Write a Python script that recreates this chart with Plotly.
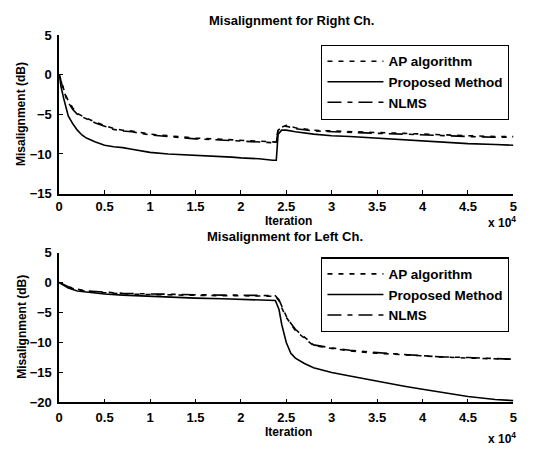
import plotly.graph_objects as go

# Right channel (top)
x_right = [0, 0.02, 0.05, 0.08, 0.1, 0.15, 0.2, 0.25, 0.3, 0.4, 0.5, 0.6, 0.7, 0.8, 0.9, 1.0, 1.2, 1.4, 1.5, 1.7, 1.9, 2.0, 2.2, 2.35, 2.39,
           2.41, 2.45, 2.5, 2.6, 2.8, 3.0, 3.2, 3.5, 3.8, 4.0, 4.2, 4.5, 4.8, 5.0]
right_ap = [0, -0.8, -1.8, -2.8, -3.3, -4.2, -4.9, -5.2, -5.5, -6.0, -6.4, -6.8, -7.0, -7.1, -7.3, -7.5, -7.7, -7.9, -8.0, -8.1, -8.2, -8.3, -8.4, -8.5, -8.5,
            -6.8, -6.6, -6.4, -6.7, -7.0, -7.1, -7.2, -7.3, -7.4, -7.5, -7.6, -7.7, -7.8, -7.8]
right_prop = [0, -1.5, -3.0, -4.5, -5.2, -6.2, -7.0, -7.6, -8.0, -8.5, -8.9, -9.1, -9.2, -9.4, -9.6, -9.8, -10.0, -10.1, -10.2, -10.3, -10.4, -10.5, -10.6, -10.8, -10.8,
              -7.5, -7.0, -7.0, -7.2, -7.5, -7.7, -7.8, -8.0, -8.2, -8.4, -8.5, -8.7, -8.8, -8.9]
right_nlms = [0, -0.9, -2.0, -3.0, -3.5, -4.4, -5.0, -5.3, -5.6, -6.1, -6.5, -6.9, -7.1, -7.2, -7.4, -7.6, -7.8, -8.0, -8.1, -8.2, -8.3, -8.4, -8.5, -8.6, -8.6,
              -7.0, -6.7, -6.5, -6.8, -7.1, -7.2, -7.3, -7.4, -7.5, -7.6, -7.7, -7.8, -7.9, -7.9]

# Left channel (bottom)
x_left = [0, 0.05, 0.1, 0.2, 0.3, 0.5, 0.7, 1.0, 1.3, 1.5, 1.8, 2.0, 2.2, 2.38, 2.42, 2.45, 2.5, 2.55, 2.6, 2.7, 2.8, 3.0, 3.2, 3.5, 3.8, 4.0, 4.2, 4.5, 4.8, 5.0]
left_ap = [0, -0.4, -0.8, -1.2, -1.5, -1.7, -1.9, -2.0, -2.1, -2.1, -2.2, -2.2, -2.2, -2.3, -3.0, -4.2, -5.8, -7.0, -8.0, -9.3, -10.5, -11.0, -11.4, -11.8, -12.1, -12.3, -12.4, -12.6, -12.7, -12.8]
left_prop = [0, -0.5, -0.9, -1.4, -1.6, -1.9, -2.1, -2.3, -2.5, -2.6, -2.7, -2.8, -2.9, -3.0, -4.5, -7.0, -10.0, -11.8, -12.6, -13.5, -14.2, -15.0, -15.6, -16.5, -17.3, -17.8, -18.3, -19.0, -19.5, -19.7]
left_nlms = [0, -0.4, -0.7, -1.1, -1.4, -1.6, -1.8, -1.9, -2.0, -2.0, -2.1, -2.1, -2.2, -2.2, -2.9, -4.0, -5.6, -6.8, -7.8, -9.1, -10.4, -10.9, -11.3, -11.7, -12.0, -12.2, -12.4, -12.5, -12.7, -12.8]

x_ticks = [0, 0.5, 1, 1.5, 2, 2.5, 3, 3.5, 4, 4.5, 5]
x_tick_text = ["0", "0.5", "1", "1.5", "2", "2.5", "3", "3.5", "4", "4.5", "5"]
names = ["AP algorithm", "Proposed Method", "NLMS"]

W, H = 543, 452
FONT = "Arial, Liberation Sans, sans-serif"
dash_ap = "5px,6px"
dash_nlms = "14px,6px,5px,6px"

fig = go.Figure()
styles = [dict(dash=dash_ap), dict(dash="solid"), dict(dash=dash_nlms)]
for ys, nm, st in zip([right_ap, right_prop, right_nlms], names, styles):
    fig.add_trace(go.Scatter(x=x_right, y=ys, name=nm, mode="lines",
                             line=dict(color="black", width=1.6, **st),
                             xaxis="x", yaxis="y", legend="legend"))
for ys, nm, st in zip([left_ap, left_prop, left_nlms], names, styles):
    fig.add_trace(go.Scatter(x=x_left, y=ys, name=nm, mode="lines",
                             line=dict(color="black", width=1.6, **st),
                             xaxis="x2", yaxis="y2", legend="legend2"))

def px_x(p):
    return p / W

def px_y(p):
    return 1 - p / H

xdom = [px_x(56), px_x(517)]
axis_common = dict(showline=True, linecolor="black", linewidth=1.5, ticks="inside", ticklen=4,
                   tickcolor="black", showgrid=False, zeroline=False, mirror=False,
                   tickfont=dict(family=FONT, size=13, color="black", weight="bold"))

leg_common = dict(xanchor="left", yanchor="top", bordercolor="black", borderwidth=1.2,
                  bgcolor="white", font=dict(family=FONT, size=13.5, color="black", weight="bold"),
                  tracegroupgap=0, itemwidth=56)

fig.update_layout(
    width=W, height=H, margin=dict(l=0, r=0, t=0, b=0),
    paper_bgcolor="white", plot_bgcolor="white",
    font=dict(family=FONT, size=12, color="black"),
    xaxis=dict(domain=xdom, range=[0, 5], tickvals=x_ticks, ticktext=x_tick_text, anchor="y", **axis_common),
    yaxis=dict(domain=[px_y(193), px_y(29)], range=[-15, 5], tickvals=[-15, -10, -5, 0, 5], anchor="x",
               ticklabelstandoff=3, **axis_common),
    xaxis2=dict(domain=xdom, range=[0, 5], tickvals=x_ticks, ticktext=x_tick_text, anchor="y2",
                ticklabelstandoff=2, **axis_common),
    yaxis2=dict(domain=[px_y(409), px_y(254)], range=[-20, 5], tickvals=[-20, -15, -10, -5, 0, 5], anchor="x2",
                ticklabelstandoff=3, **axis_common),
    legend=dict(x=px_x(322), y=px_y(39), **leg_common),
    legend2=dict(x=px_x(322), y=px_y(259), **leg_common),
    showlegend=True,
)

ann = [
    dict(text="Misalignment for Right Ch.", x=px_x(292), y=px_y(14), size=13),
    dict(text="Misalignment for Left Ch.", x=px_x(285), y=px_y(237), size=13),
    dict(text="Iteration", x=px_x(289), y=px_y(221), size=12),
    dict(text="Iteration", x=px_x(289), y=px_y(440), size=12),
    dict(text="x 10<sup>4</sup>", x=px_x(505), y=px_y(222), size=12),
    dict(text="x 10<sup>4</sup>", x=px_x(505), y=px_y(446), size=12),
    dict(text="Misalignment (dB)", x=px_x(18), y=px_y(111), size=12, textangle=-90),
    dict(text="Misalignment (dB)", x=px_x(18), y=px_y(331), size=12, textangle=-90),
]
for a in ann:
    sz = a.pop("size")
    fig.add_annotation(xref="paper", yref="paper", showarrow=False, xanchor="center", yanchor="middle",
                       font=dict(family=FONT, size=sz, color="black", weight="bold"), **a)

fig.write_html("out.html", config={"displayModeBar": False},
               post_script="document.body.style.margin='0px';")
